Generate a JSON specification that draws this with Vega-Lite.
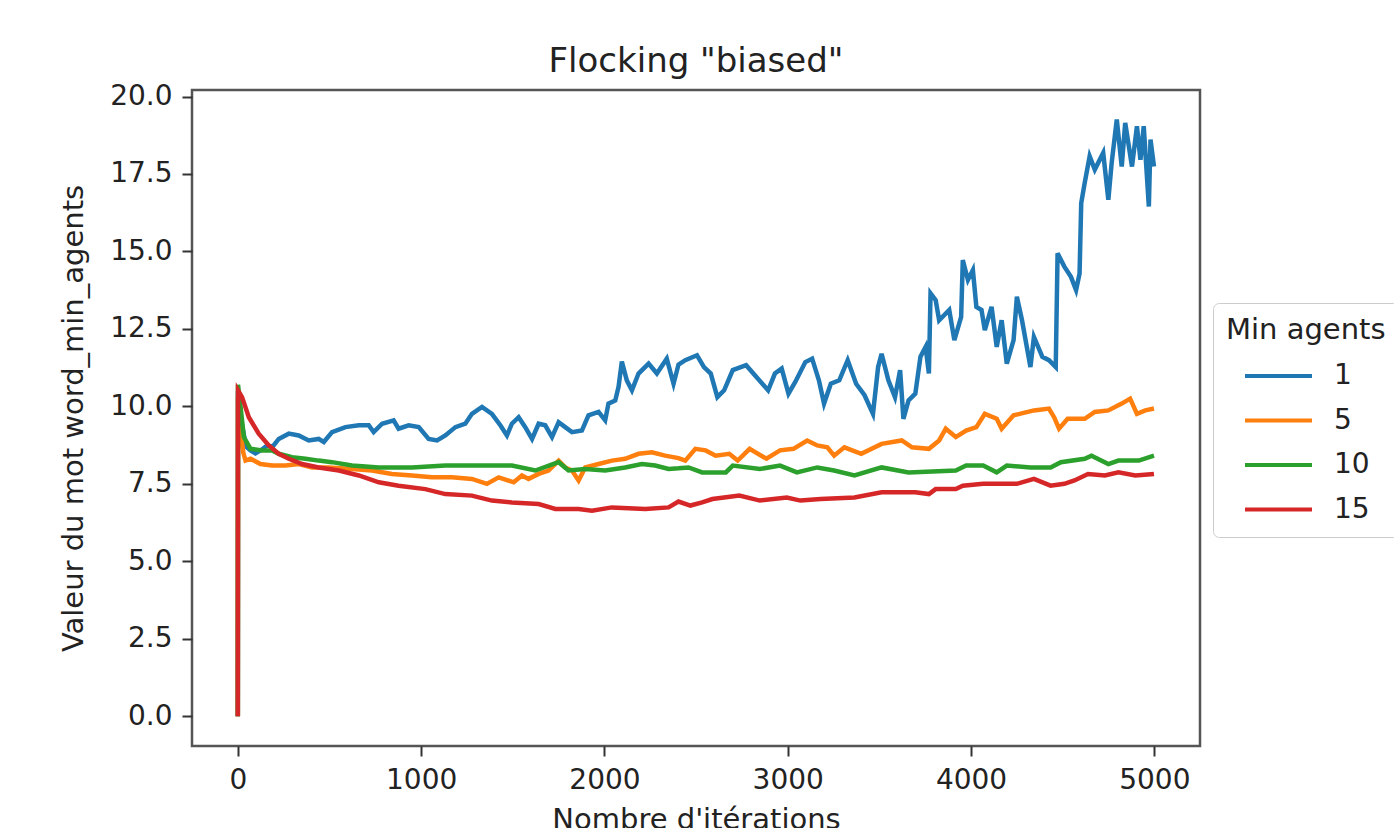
{
  "$schema": "https://vega.github.io/schema/vega-lite/v6.json",
  "autosize": {"type": "none"},
  "padding": {"left": 192, "top": 90, "right": 194, "bottom": 82},
  "width": 1008,
  "height": 656,
  "background": "white",
  "title": {"text": "Flocking \"biased\"", "fontSize": 34, "font": "DejaVu Sans", "fontWeight": "normal", "color": "#222", "anchor": "middle", "offset": 4},
  "config": {
    "font": "DejaVu Sans",
    "view": {"stroke": "#555", "strokeWidth": 2.5},
    "axis": {"grid": false, "domain": false, "tickColor": "#333", "tickWidth": 2, "tickSize": 10, "labelFont": "DejaVu Sans", "labelFontSize": 28, "labelColor": "#222", "titleFont": "DejaVu Sans", "titleFontSize": 29, "titleFontWeight": "normal", "titleColor": "#222"},
    "legend": {"labelFont": "DejaVu Sans", "titleFont": "DejaVu Sans"}
  },
  "data": {"values": [
    {"it":0,"v":0,"a":"1"},{"it":1,"v":10.5,"a":"1"},{"it":20,"v":9.5,"a":"1"},{"it":45,"v":8.7,"a":"1"},{"it":69,"v":8.58,"a":"1"},{"it":96,"v":8.48,"a":"1"},{"it":130,"v":8.6,"a":"1"},{"it":160,"v":8.74,"a":"1"},{"it":190,"v":8.7,"a":"1"},{"it":223,"v":8.95,"a":"1"},{"it":278,"v":9.12,"a":"1"},{"it":332,"v":9.06,"a":"1"},{"it":387,"v":8.9,"a":"1"},{"it":441,"v":8.95,"a":"1"},{"it":469,"v":8.85,"a":"1"},{"it":514,"v":9.17,"a":"1"},{"it":587,"v":9.33,"a":"1"},{"it":660,"v":9.39,"a":"1"},{"it":714,"v":9.39,"a":"1"},{"it":741,"v":9.17,"a":"1"},{"it":787,"v":9.44,"a":"1"},{"it":850,"v":9.55,"a":"1"},{"it":877,"v":9.28,"a":"1"},{"it":932,"v":9.39,"a":"1"},{"it":987,"v":9.33,"a":"1"},{"it":1041,"v":8.95,"a":"1"},{"it":1087,"v":8.9,"a":"1"},{"it":1132,"v":9.06,"a":"1"},{"it":1187,"v":9.33,"a":"1"},{"it":1241,"v":9.44,"a":"1"},{"it":1277,"v":9.76,"a":"1"},{"it":1332,"v":9.98,"a":"1"},{"it":1386,"v":9.76,"a":"1"},{"it":1432,"v":9.39,"a":"1"},{"it":1468,"v":9.06,"a":"1"},{"it":1495,"v":9.44,"a":"1"},{"it":1532,"v":9.65,"a":"1"},{"it":1568,"v":9.33,"a":"1"},{"it":1605,"v":8.95,"a":"1"},{"it":1641,"v":9.44,"a":"1"},{"it":1677,"v":9.39,"a":"1"},{"it":1714,"v":9.01,"a":"1"},{"it":1750,"v":9.49,"a":"1"},{"it":1786,"v":9.33,"a":"1"},{"it":1823,"v":9.17,"a":"1"},{"it":1877,"v":9.22,"a":"1"},{"it":1913,"v":9.71,"a":"1"},{"it":1968,"v":9.82,"a":"1"},{"it":2004,"v":9.55,"a":"1"},{"it":2022,"v":10.09,"a":"1"},{"it":2059,"v":10.19,"a":"1"},{"it":2077,"v":10.63,"a":"1"},{"it":2095,"v":11.45,"a":"1"},{"it":2122,"v":10.84,"a":"1"},{"it":2150,"v":10.52,"a":"1"},{"it":2186,"v":11.06,"a":"1"},{"it":2241,"v":11.38,"a":"1"},{"it":2286,"v":11.06,"a":"1"},{"it":2340,"v":11.54,"a":"1"},{"it":2377,"v":10.73,"a":"1"},{"it":2404,"v":11.35,"a":"1"},{"it":2441,"v":11.49,"a":"1"},{"it":2505,"v":11.65,"a":"1"},{"it":2543,"v":11.27,"a":"1"},{"it":2580,"v":11.06,"a":"1"},{"it":2616,"v":10.3,"a":"1"},{"it":2653,"v":10.52,"a":"1"},{"it":2700,"v":11.17,"a":"1"},{"it":2773,"v":11.33,"a":"1"},{"it":2829,"v":10.95,"a":"1"},{"it":2893,"v":10.52,"a":"1"},{"it":2930,"v":11.06,"a":"1"},{"it":2967,"v":11.22,"a":"1"},{"it":3004,"v":10.41,"a":"1"},{"it":3041,"v":10.79,"a":"1"},{"it":3096,"v":11.43,"a":"1"},{"it":3133,"v":11.54,"a":"1"},{"it":3170,"v":10.84,"a":"1"},{"it":3198,"v":10.09,"a":"1"},{"it":3235,"v":10.73,"a":"1"},{"it":3281,"v":10.84,"a":"1"},{"it":3327,"v":11.49,"a":"1"},{"it":3373,"v":10.73,"a":"1"},{"it":3419,"v":10.36,"a":"1"},{"it":3465,"v":9.76,"a":"1"},{"it":3493,"v":11.27,"a":"1"},{"it":3512,"v":11.7,"a":"1"},{"it":3549,"v":10.84,"a":"1"},{"it":3585,"v":10.3,"a":"1"},{"it":3613,"v":11.17,"a":"1"},{"it":3631,"v":9.6,"a":"1"},{"it":3659,"v":10.19,"a":"1"},{"it":3696,"v":10.41,"a":"1"},{"it":3724,"v":11.6,"a":"1"},{"it":3752,"v":11.92,"a":"1"},{"it":3770,"v":11.06,"a":"1"},{"it":3779,"v":13.65,"a":"1"},{"it":3807,"v":13.43,"a":"1"},{"it":3826,"v":12.78,"a":"1"},{"it":3881,"v":13.11,"a":"1"},{"it":3909,"v":12.14,"a":"1"},{"it":3946,"v":12.89,"a":"1"},{"it":3955,"v":14.72,"a":"1"},{"it":3983,"v":14.08,"a":"1"},{"it":4010,"v":14.4,"a":"1"},{"it":4029,"v":13.21,"a":"1"},{"it":4057,"v":13.11,"a":"1"},{"it":4075,"v":12.46,"a":"1"},{"it":4112,"v":13.21,"a":"1"},{"it":4140,"v":11.92,"a":"1"},{"it":4167,"v":12.78,"a":"1"},{"it":4195,"v":11.38,"a":"1"},{"it":4232,"v":12.14,"a":"1"},{"it":4250,"v":13.54,"a":"1"},{"it":4278,"v":12.78,"a":"1"},{"it":4324,"v":11.27,"a":"1"},{"it":4343,"v":12.24,"a":"1"},{"it":4389,"v":11.6,"a":"1"},{"it":4425,"v":11.49,"a":"1"},{"it":4462,"v":11.27,"a":"1"},{"it":4472,"v":14.94,"a":"1"},{"it":4509,"v":14.51,"a":"1"},{"it":4545,"v":14.18,"a":"1"},{"it":4573,"v":13.75,"a":"1"},{"it":4592,"v":14.29,"a":"1"},{"it":4601,"v":16.56,"a":"1"},{"it":4620,"v":17.21,"a":"1"},{"it":4647,"v":18.07,"a":"1"},{"it":4675,"v":17.64,"a":"1"},{"it":4721,"v":18.18,"a":"1"},{"it":4749,"v":16.67,"a":"1"},{"it":4767,"v":17.85,"a":"1"},{"it":4795,"v":19.26,"a":"1"},{"it":4822,"v":17.74,"a":"1"},{"it":4841,"v":19.15,"a":"1"},{"it":4878,"v":17.74,"a":"1"},{"it":4905,"v":19.04,"a":"1"},{"it":4924,"v":17.96,"a":"1"},{"it":4942,"v":19.04,"a":"1"},{"it":4970,"v":16.45,"a":"1"},{"it":4979,"v":18.61,"a":"1"},{"it":4998,"v":17.74,"a":"1"},
    {"it":0,"v":0,"a":"5"},{"it":1,"v":10.3,"a":"5"},{"it":15,"v":9.2,"a":"5"},{"it":30,"v":8.5,"a":"5"},{"it":42,"v":8.25,"a":"5"},{"it":69,"v":8.31,"a":"5"},{"it":124,"v":8.14,"a":"5"},{"it":187,"v":8.09,"a":"5"},{"it":260,"v":8.09,"a":"5"},{"it":332,"v":8.14,"a":"5"},{"it":405,"v":8.03,"a":"5"},{"it":496,"v":8.03,"a":"5"},{"it":623,"v":7.98,"a":"5"},{"it":732,"v":7.93,"a":"5"},{"it":841,"v":7.82,"a":"5"},{"it":950,"v":7.77,"a":"5"},{"it":1059,"v":7.71,"a":"5"},{"it":1168,"v":7.71,"a":"5"},{"it":1277,"v":7.66,"a":"5"},{"it":1359,"v":7.5,"a":"5"},{"it":1423,"v":7.71,"a":"5"},{"it":1505,"v":7.55,"a":"5"},{"it":1550,"v":7.77,"a":"5"},{"it":1586,"v":7.66,"a":"5"},{"it":1641,"v":7.82,"a":"5"},{"it":1695,"v":7.93,"a":"5"},{"it":1750,"v":8.25,"a":"5"},{"it":1786,"v":8.03,"a":"5"},{"it":1823,"v":7.93,"a":"5"},{"it":1859,"v":7.61,"a":"5"},{"it":1895,"v":8.03,"a":"5"},{"it":1968,"v":8.14,"a":"5"},{"it":2041,"v":8.25,"a":"5"},{"it":2113,"v":8.31,"a":"5"},{"it":2186,"v":8.47,"a":"5"},{"it":2259,"v":8.52,"a":"5"},{"it":2331,"v":8.41,"a":"5"},{"it":2404,"v":8.33,"a":"5"},{"it":2441,"v":8.25,"a":"5"},{"it":2496,"v":8.63,"a":"5"},{"it":2552,"v":8.58,"a":"5"},{"it":2607,"v":8.41,"a":"5"},{"it":2681,"v":8.47,"a":"5"},{"it":2727,"v":8.25,"a":"5"},{"it":2792,"v":8.63,"a":"5"},{"it":2884,"v":8.31,"a":"5"},{"it":2958,"v":8.58,"a":"5"},{"it":3031,"v":8.63,"a":"5"},{"it":3106,"v":8.9,"a":"5"},{"it":3161,"v":8.74,"a":"5"},{"it":3216,"v":8.68,"a":"5"},{"it":3253,"v":8.41,"a":"5"},{"it":3309,"v":8.68,"a":"5"},{"it":3401,"v":8.47,"a":"5"},{"it":3512,"v":8.79,"a":"5"},{"it":3622,"v":8.9,"a":"5"},{"it":3678,"v":8.68,"a":"5"},{"it":3770,"v":8.63,"a":"5"},{"it":3826,"v":8.9,"a":"5"},{"it":3862,"v":9.28,"a":"5"},{"it":3917,"v":9.01,"a":"5"},{"it":3973,"v":9.22,"a":"5"},{"it":4029,"v":9.33,"a":"5"},{"it":4075,"v":9.76,"a":"5"},{"it":4140,"v":9.6,"a":"5"},{"it":4167,"v":9.28,"a":"5"},{"it":4232,"v":9.71,"a":"5"},{"it":4343,"v":9.87,"a":"5"},{"it":4425,"v":9.93,"a":"5"},{"it":4453,"v":9.65,"a":"5"},{"it":4480,"v":9.28,"a":"5"},{"it":4527,"v":9.6,"a":"5"},{"it":4620,"v":9.6,"a":"5"},{"it":4675,"v":9.82,"a":"5"},{"it":4749,"v":9.87,"a":"5"},{"it":4822,"v":10.09,"a":"5"},{"it":4868,"v":10.25,"a":"5"},{"it":4905,"v":9.76,"a":"5"},{"it":4951,"v":9.87,"a":"5"},{"it":4998,"v":9.93,"a":"5"},
    {"it":0,"v":0,"a":"10"},{"it":1,"v":10.7,"a":"10"},{"it":15,"v":9.98,"a":"10"},{"it":33,"v":9.01,"a":"10"},{"it":69,"v":8.63,"a":"10"},{"it":133,"v":8.58,"a":"10"},{"it":187,"v":8.58,"a":"10"},{"it":223,"v":8.47,"a":"10"},{"it":296,"v":8.36,"a":"10"},{"it":369,"v":8.31,"a":"10"},{"it":441,"v":8.25,"a":"10"},{"it":514,"v":8.2,"a":"10"},{"it":623,"v":8.09,"a":"10"},{"it":769,"v":8.03,"a":"10"},{"it":950,"v":8.03,"a":"10"},{"it":1132,"v":8.09,"a":"10"},{"it":1314,"v":8.09,"a":"10"},{"it":1495,"v":8.09,"a":"10"},{"it":1623,"v":7.93,"a":"10"},{"it":1750,"v":8.2,"a":"10"},{"it":1804,"v":7.93,"a":"10"},{"it":1895,"v":7.98,"a":"10"},{"it":2004,"v":7.93,"a":"10"},{"it":2113,"v":8.03,"a":"10"},{"it":2204,"v":8.14,"a":"10"},{"it":2277,"v":8.09,"a":"10"},{"it":2350,"v":7.98,"a":"10"},{"it":2404,"v":8.0,"a":"10"},{"it":2459,"v":8.03,"a":"10"},{"it":2533,"v":7.87,"a":"10"},{"it":2662,"v":7.87,"a":"10"},{"it":2700,"v":8.09,"a":"10"},{"it":2848,"v":7.98,"a":"10"},{"it":2958,"v":8.09,"a":"10"},{"it":3050,"v":7.87,"a":"10"},{"it":3161,"v":8.03,"a":"10"},{"it":3253,"v":7.93,"a":"10"},{"it":3364,"v":7.77,"a":"10"},{"it":3512,"v":8.03,"a":"10"},{"it":3659,"v":7.87,"a":"10"},{"it":3917,"v":7.93,"a":"10"},{"it":3973,"v":8.09,"a":"10"},{"it":4066,"v":8.09,"a":"10"},{"it":4140,"v":7.87,"a":"10"},{"it":4195,"v":8.09,"a":"10"},{"it":4324,"v":8.03,"a":"10"},{"it":4434,"v":8.03,"a":"10"},{"it":4490,"v":8.2,"a":"10"},{"it":4620,"v":8.31,"a":"10"},{"it":4657,"v":8.41,"a":"10"},{"it":4749,"v":8.14,"a":"10"},{"it":4804,"v":8.25,"a":"10"},{"it":4915,"v":8.25,"a":"10"},{"it":4998,"v":8.41,"a":"10"},
    {"it":0,"v":0,"a":"15"},{"it":1,"v":10.52,"a":"15"},{"it":23,"v":10.3,"a":"15"},{"it":60,"v":9.65,"a":"15"},{"it":114,"v":9.12,"a":"15"},{"it":169,"v":8.74,"a":"15"},{"it":223,"v":8.47,"a":"15"},{"it":278,"v":8.31,"a":"15"},{"it":351,"v":8.14,"a":"15"},{"it":441,"v":8.03,"a":"15"},{"it":551,"v":7.93,"a":"15"},{"it":660,"v":7.77,"a":"15"},{"it":769,"v":7.55,"a":"15"},{"it":877,"v":7.44,"a":"15"},{"it":1023,"v":7.33,"a":"15"},{"it":1132,"v":7.17,"a":"15"},{"it":1277,"v":7.12,"a":"15"},{"it":1386,"v":6.96,"a":"15"},{"it":1495,"v":6.9,"a":"15"},{"it":1641,"v":6.85,"a":"15"},{"it":1732,"v":6.69,"a":"15"},{"it":1859,"v":6.69,"a":"15"},{"it":1932,"v":6.63,"a":"15"},{"it":2041,"v":6.74,"a":"15"},{"it":2223,"v":6.69,"a":"15"},{"it":2350,"v":6.74,"a":"15"},{"it":2404,"v":6.93,"a":"15"},{"it":2469,"v":6.8,"a":"15"},{"it":2533,"v":6.9,"a":"15"},{"it":2589,"v":7.01,"a":"15"},{"it":2736,"v":7.12,"a":"15"},{"it":2848,"v":6.96,"a":"15"},{"it":2995,"v":7.06,"a":"15"},{"it":3069,"v":6.96,"a":"15"},{"it":3179,"v":7.01,"a":"15"},{"it":3364,"v":7.06,"a":"15"},{"it":3512,"v":7.23,"a":"15"},{"it":3696,"v":7.23,"a":"15"},{"it":3770,"v":7.17,"a":"15"},{"it":3807,"v":7.33,"a":"15"},{"it":3917,"v":7.33,"a":"15"},{"it":3955,"v":7.44,"a":"15"},{"it":4066,"v":7.5,"a":"15"},{"it":4250,"v":7.5,"a":"15"},{"it":4343,"v":7.66,"a":"15"},{"it":4434,"v":7.44,"a":"15"},{"it":4509,"v":7.5,"a":"15"},{"it":4564,"v":7.61,"a":"15"},{"it":4638,"v":7.82,"a":"15"},{"it":4730,"v":7.77,"a":"15"},{"it":4804,"v":7.87,"a":"15"},{"it":4896,"v":7.77,"a":"15"},{"it":4998,"v":7.82,"a":"15"}
  ]},
  "mark": {"type": "line", "strokeWidth": 4.5, "clip": true},
  "encoding": {
    "x": {"field": "it", "type": "quantitative", "scale": {"domain": [-250, 5249], "nice": false, "zero": false}, "axis": {"title": "Nombre d'itérations", "values": [0, 1000, 2000, 3000, 4000, 5000], "format": "d", "labelPadding": 10, "titlePadding": 11}},
    "y": {"field": "v", "type": "quantitative", "scale": {"domain": [-0.96, 20.21], "nice": false, "zero": false}, "axis": {"title": "Valeur du mot word_min_agents", "values": [0, 2.5, 5, 7.5, 10, 12.5, 15, 17.5, 20], "format": ".1f", "labelPadding": 10, "titlePadding": 21}},
    "color": {"field": "a", "type": "nominal", "sort": null, "scale": {"domain": ["1", "5", "10", "15"], "range": ["#1f77b4", "#ff7f0e", "#2ca02c", "#d62728"]},
      "legend": {"title": "Min agents", "orient": "none", "legendX": 1021, "legendY": 213, "padding": 13, "strokeColor": "#cccccc", "fillColor": "white", "cornerRadius": 6, "titleFontSize": 29, "titleFontWeight": "normal", "titleColor": "#222", "titlePadding": 12, "labelFontSize": 28, "labelColor": "#222", "symbolType": "M0,0H4", "symbolSize": 1122, "symbolStrokeWidth": 4, "labelOffset": 70, "rowPadding": 11.5}}
  }
}
